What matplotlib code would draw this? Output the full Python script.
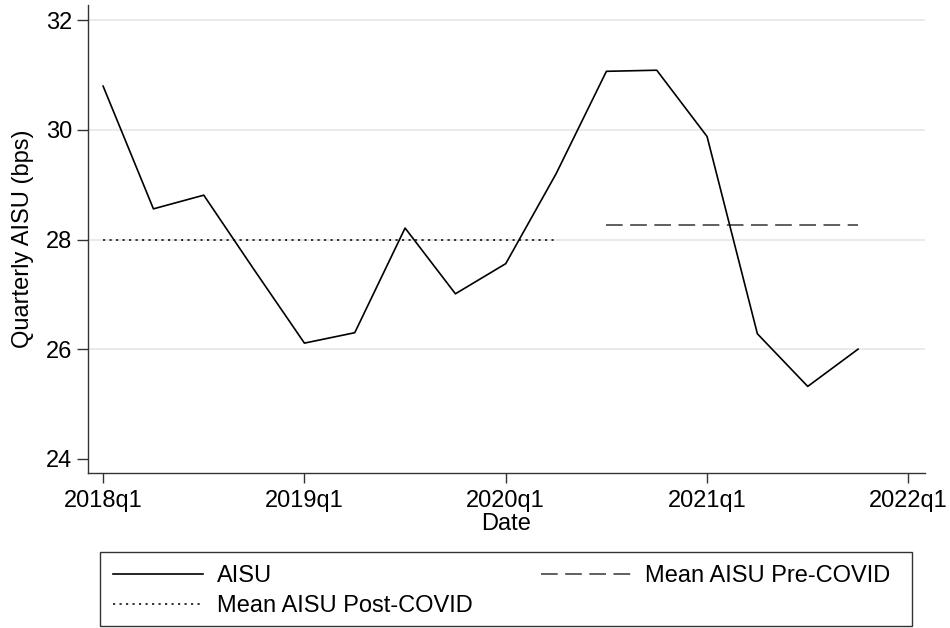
import matplotlib
matplotlib.use("Agg")
import matplotlib.pyplot as plt
from matplotlib.patches import Rectangle
import numpy as np

plt.rcParams['font.family'] = ['Liberation Sans', 'DejaVu Sans']

quarters = ["2018q1", "2018q2", "2018q3", "2018q4",
            "2019q1", "2019q2", "2019q3", "2019q4",
            "2020q1", "2020q2", "2020q3", "2020q4",
            "2021q1", "2021q2", "2021q3", "2021q4"]
aisu = [30.80, 28.56, 28.81, 27.45,
        26.11, 26.30, 28.21, 27.01,
        27.56, 29.20, 31.07, 31.09,
        29.88, 26.28, 25.32, 26.00]

post_quarters = ["2018q1", "2020q2"]
post_mean = 28.00
pre_quarters = ["2020q3", "2021q4"]
pre_mean = 28.27

xtick_labels = ["2018q1", "2019q1", "2020q1", "2021q1", "2022q1"]
yticks = [24, 26, 28, 30, 32]


def qidx(q):
    y, n = q.split("q")
    return (int(y) - 2018) * 4 + int(n) - 1


x = np.array([qidx(q) for q in quarters])

W, H = 950, 628
fig = plt.figure(figsize=(9.5, 6.28), dpi=100)
ax = fig.add_axes([88 / W, 1 - 473 / H, (925 - 88) / W, (473 - 5) / H])

fs = 17
l1, = ax.plot(x, aisu, color="black", lw=1.2, label="AISU", zorder=3)
px = [qidx(q) for q in post_quarters]
l2, = ax.plot(px, [post_mean] * 2, color="#222222", lw=1.3,
              dashes=(1.2, 2.4), label="Mean AISU Post-COVID", zorder=2)
prx = [qidx(q) for q in pre_quarters]
l3, = ax.plot(prx, [pre_mean] * 2, color="#444444", lw=1.2,
              dashes=(10, 4.5), label="Mean AISU Pre-COVID", zorder=2)

ax.set_xlim(-0.3, 16.33)
ax.set_ylim(23.74, 32.28)
ax.set_xticks([qidx(t) for t in xtick_labels])
ax.set_xticklabels(xtick_labels, fontsize=fs)
ax.set_yticks(yticks)
ax.set_yticklabels([str(v) for v in yticks], fontsize=fs)

ax.yaxis.grid(True, color="#e6e6e6", lw=1.2)
ax.set_axisbelow(True)
ax.get_ygridlines()[0].set_visible(False)

for s in ["top", "right"]:
    ax.spines[s].set_visible(False)
for s in ["left", "bottom"]:
    ax.spines[s].set_color("#333333")
    ax.spines[s].set_linewidth(1.0)

ax.tick_params(axis="x", length=7, width=1.0, color="#333333", pad=5)
ax.tick_params(axis="y", length=8, width=1.0, color="#333333", pad=3.5)

ax.set_ylabel("Quarterly AISU (bps)", fontsize=fs)
ax.set_xlabel("Date", fontsize=fs, labelpad=1)
ax.yaxis.set_label_coords(-(88 - 34) / 837, 0.5)

leg = fig.legend(handles=[l1, l2, l3], ncol=2,
                 bbox_to_anchor=(100 / W, 1 - 552 / H),
                 loc="upper left", fontsize=fs, frameon=False,
                 handlelength=3.8, handletextpad=0.6, columnspacing=2.9,
                 labelspacing=0.36, borderpad=0.55, borderaxespad=0)

fig.add_artist(Rectangle((100 / W, 1 - 626 / H), (912 - 100) / W, (626 - 552) / H,
                         transform=fig.transFigure, fill=False,
                         edgecolor="#333333", linewidth=1.0))

fig.savefig("out.png", dpi=100)
